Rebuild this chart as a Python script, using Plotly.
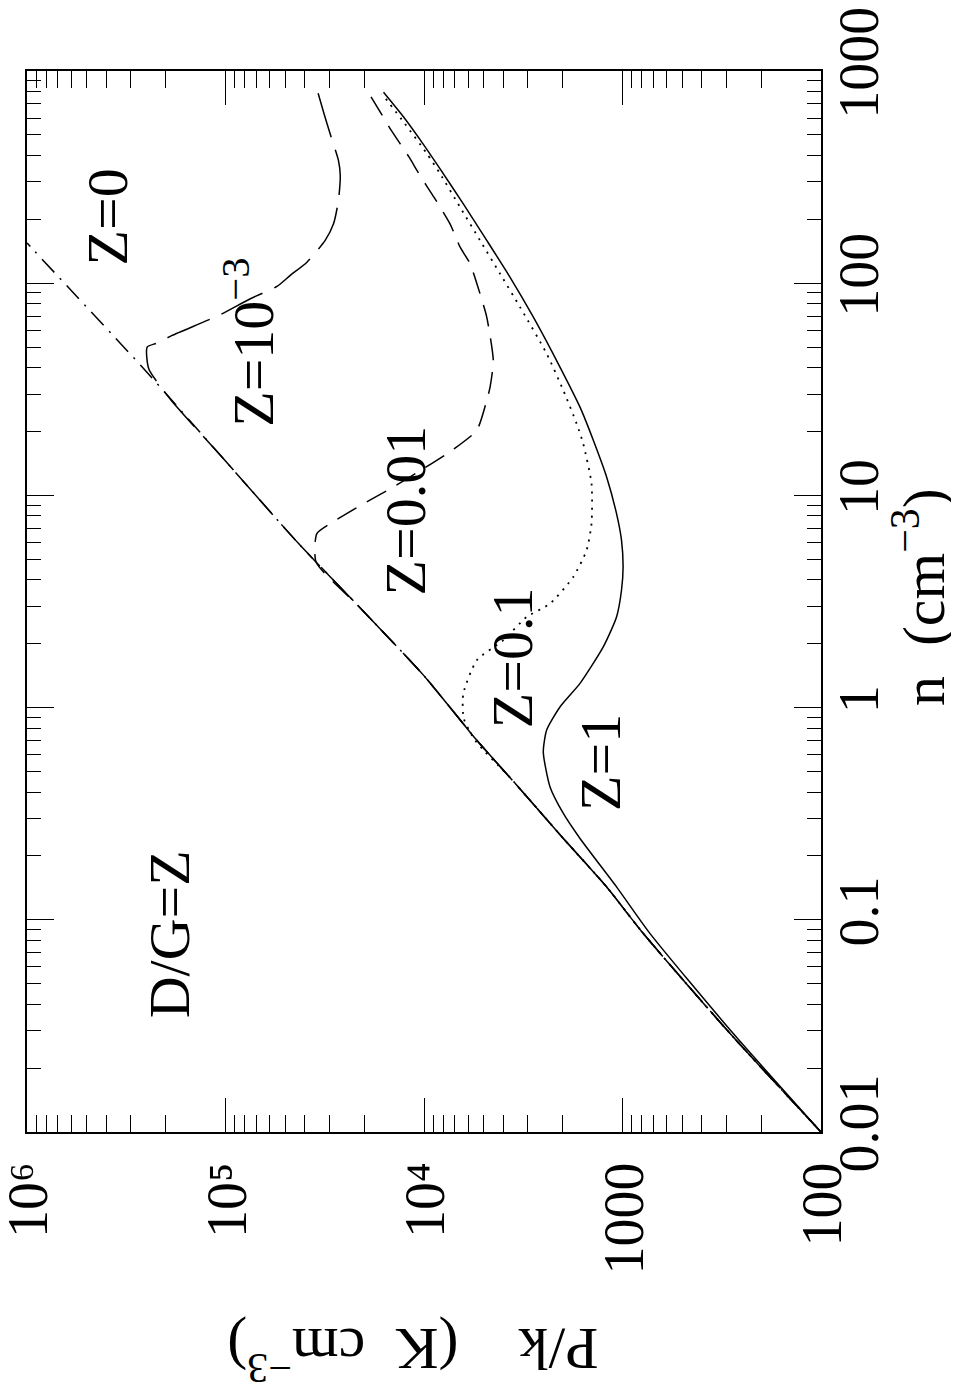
import plotly.graph_objects as go

# ---------------- data: log10(n) and log10(P/k) ----------------
# common warm branch shared by all curves at low density
COMMON_LOG_N = [-2.0, -1.535, -1.064, -0.845, -0.617, -0.342, -0.154, 0.153, 0.473, 0.773, 1.189, 1.605, 2.163, 2.19]
COMMON_LOG_P = [2.0, 2.459, 2.896, 3.080, 3.298, 3.555, 3.734, 4.003, 4.325, 4.632, 5.026, 5.420, 5.974, 6.0]

# Z = 1 (solid) - full curve
Z1_LOG_N = [-2.0, -1.535, -1.064, -0.845, -0.617, -0.499, -0.374, -0.209, -0.106, 0.003, 0.114, 0.286, 0.427,
            0.553, 0.663, 0.789, 0.914, 1.087, 1.260, 1.416, 1.605, 1.840, 2.029, 2.202, 2.374, 2.547, 2.657,
            2.780, 2.900]
Z1_LOG_P = [2.0, 2.443, 2.862, 3.030, 3.214, 3.298, 3.365, 3.399, 3.382, 3.315, 3.214, 3.097, 3.030,
            3.005, 2.997, 3.005, 3.030, 3.080, 3.147, 3.214, 3.315, 3.449, 3.567, 3.684, 3.802, 3.925, 4.005,
            4.100, 4.204]

# Z = 0.1 (dotted) - part after leaving the common branch
Z01_LOG_N = [-0.154, -0.05, 0.066, 0.223, 0.318, 0.427, 0.490, 0.616, 0.741, 0.867, 1.056, 1.244, 1.338,
             1.495, 1.668, 1.887, 2.045, 2.202, 2.358, 2.516, 2.610, 2.750, 2.893]
Z01_LOG_P = [3.743, 3.800, 3.802, 3.734, 3.600, 3.483, 3.365, 3.248, 3.181, 3.156, 3.156, 3.198, 3.231,
             3.298, 3.382, 3.516, 3.617, 3.718, 3.818, 3.919, 3.985, 4.095, 4.212]

# Z = 0.01 (short dashes)
Z001_LOG_N = [0.686, 0.820, 0.867, 0.961, 1.040, 1.126, 1.217, 1.307, 1.448, 1.511, 1.636, 1.840, 1.951,
              2.092, 2.170, 2.280, 2.406, 2.453, 2.531, 2.594, 2.720, 2.814, 2.885]
Z001_LOG_P = [4.544, 4.540, 4.473, 4.305, 4.154, 4.003, 3.852, 3.734, 3.684, 3.667, 3.651, 3.684, 3.718,
              3.768, 3.818, 3.869, 3.950, 3.983, 4.035, 4.075, 4.165, 4.225, 4.271]

# Z = 1e-3 (long dashes)
Z0001_LOG_N = [1.45, 1.597, 1.699, 1.718, 1.754, 1.848, 1.927, 1.985, 2.037, 2.099, 2.202, 2.280, 2.390,
               2.508, 2.578, 2.704, 2.806, 2.897]
Z0001_LOG_P = [5.275, 5.387, 5.395, 5.345, 5.269, 5.035, 4.875, 4.741, 4.674, 4.590, 4.498, 4.456, 4.431,
               4.422, 4.431, 4.473, 4.506, 4.534]

X_TICKS = [1e2, 1e3, 1e4, 1e5, 1e6]
X_TICKTEXT = ["100", "1000", "10⁴", "10⁵", "10⁶"]
Y_TICKS = [0.01, 0.1, 1, 10, 100, 1000]
Y_TICKTEXT = ["0.01", "0.1", "1", "10", "100", "1000"]

LABELS = ["Z=0", "Z=10<sup>−3</sup>", "Z=0.01", "Z=0.1", "Z=1", "D/G=Z"]
LABEL_LOG_P = [5.596, 4.880, 4.095, 3.557, 3.114, 5.278]
LABEL_LOG_N = [2.311, 1.721, 0.930, 0.237, -0.257, -1.067]

FONT = "Liberation Serif"


def branch(own_n, own_p):
    """Common branch below the departure density followed by the curve's own points."""
    n = [v for v in COMMON_LOG_N if v < own_n[0]]
    p = COMMON_LOG_P[:len(n)]
    return n + own_n, p + own_p


curves = [
    (COMMON_LOG_N, COMMON_LOG_P, "18px,8px,2px,8px", 1.5),           # Z = 0  dash-dot
    (*branch(Z0001_LOG_N, Z0001_LOG_P), "46px,13px", 1.5),           # Z = 1e-3 long dash
    (*branch(Z001_LOG_N, Z001_LOG_P), "22px,12px", 1.5),             # Z = 0.01 dash
    (*branch(Z01_LOG_N, Z01_LOG_P), "2px,6px", 1.8),                 # Z = 0.1 dotted
    (Z1_LOG_N, Z1_LOG_P, "solid", 1.5),                              # Z = 1 solid
]

fig = go.Figure()
for ln, lp, dash, w in curves:
    fig.add_trace(go.Scatter(
        x=[10 ** v for v in lp], y=[10 ** v for v in ln], mode="lines",
        line=dict(color="black", width=w, dash=dash, shape="spline", smoothing=0.6),
        hoverinfo="skip"))

minor_x = [k * 10 ** e for e in range(2, 6) for k in range(2, 10)]
minor_y = [k * 10.0 ** e for e in range(-2, 3) for k in range(2, 10)]

fig.update_xaxes(
    type="log", range=[6.0004, 1.9998], showgrid=False, zeroline=False, automargin=False,
    showline=True, linecolor="black", linewidth=2, mirror="allticks",
    ticks="inside", ticklen=34, tickwidth=1.3, tickcolor="black",
    tickvals=X_TICKS, ticktext=X_TICKTEXT, tickangle=-90, ticklabeloverflow="allow",
    tickfont=dict(family=FONT, size=56, color="black"), ticklabelstandoff=6, ticklabelshift=-2,
    minor=dict(ticks="inside", ticklen=17, tickwidth=1.3, tickcolor="black",
               tickvals=minor_x, showgrid=False),
)
fig.update_yaxes(
    type="log", range=[-2.0002, 3.0002], side="right", showgrid=False, zeroline=False, automargin=False,
    showline=True, linecolor="black", linewidth=2, mirror="allticks",
    ticks="inside", ticklen=27, tickwidth=1.3, tickcolor="black",
    tickvals=Y_TICKS, ticktext=Y_TICKTEXT, tickangle=-90, ticklabeloverflow="allow",
    tickfont=dict(family=FONT, size=56, color="black"), ticklabelstandoff=-12,
    minor=dict(ticks="inside", ticklen=14, tickwidth=1.3, tickcolor="black",
               tickvals=minor_y, showgrid=False),
)

for text, lp, ln in zip(LABELS, LABEL_LOG_P, LABEL_LOG_N):
    fig.add_annotation(x=lp, y=ln, xref="x", yref="y", text=text, showarrow=False,
                       textangle=-90, font=dict(family=FONT, size=58, color="black"))

fig.add_annotation(x=1.173, y=0.504, xref="paper", yref="paper",
                   text="n&nbsp; (cm<sup>−3</sup>)", showarrow=False, textangle=-90,
                   font=dict(family=FONT, size=60, color="black"))
fig.add_annotation(x=0.4865, y=-0.246, xref="paper", yref="paper",
                   text="P/k&nbsp;&nbsp;&nbsp;&nbsp;(K&nbsp;&nbsp;cm<sup>−3</sup>)", showarrow=False, textangle=180,
                   font=dict(family=FONT, size=60, color="black"))

# the page body keeps the browser's default 8px margin, so the figure is sized to fit beside it
fig.update_layout(
    width=951, height=1387, autosize=False, showlegend=False,
    margin=dict(l=18.5, r=138, t=62.5, b=263, pad=0, autoexpand=False),
    paper_bgcolor="white", plot_bgcolor="white",
)

fig.write_html("out.html")
